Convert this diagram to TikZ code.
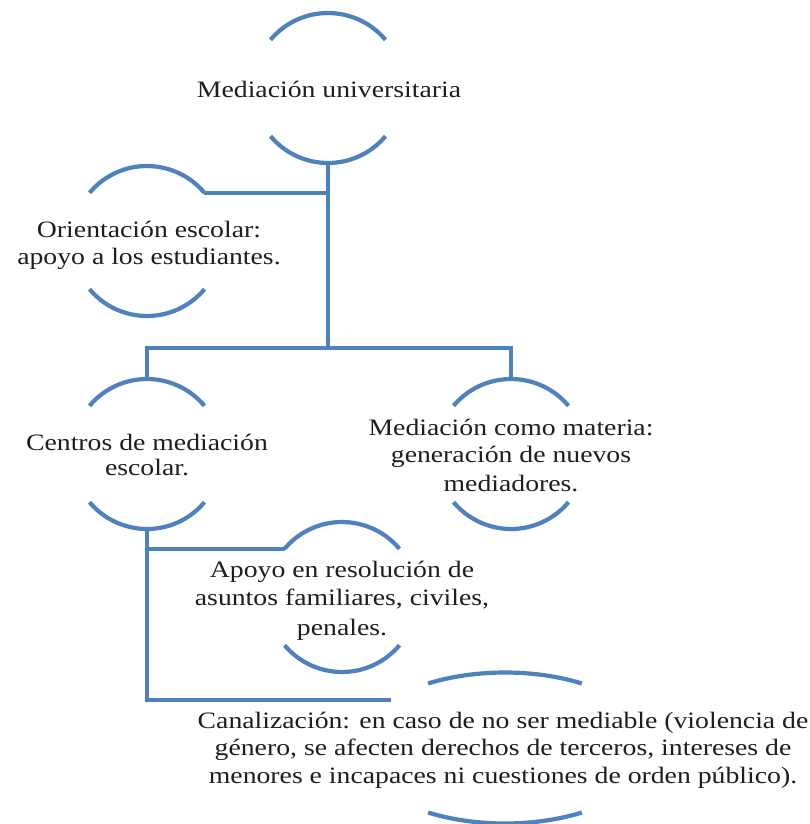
\documentclass[tikz,border=0pt]{standalone}
\usepackage{fontspec}
\setmainfont{Liberation Serif}[FakeStretch=1.18]
\usetikzlibrary{shapes.geometric}
\definecolor{linkblue}{HTML}{4F81BD}
\definecolor{inkgray}{HTML}{1E1E1E}
\begin{document}
\begin{tikzpicture}[x=1pt,y=-1pt,
  conn/.style={draw=linkblue,line width=4.2pt},
  ring/.style={circle,minimum size=150pt,inner sep=0pt,outer sep=0pt},
  oval/.style={ellipse,minimum width=296pt,minimum height=151pt,inner sep=0pt,outer sep=0pt},
  txt/.style={align=center,text=inkgray,font=\fontsize{23.5}{27.5}\selectfont,inner sep=0pt}]
\useasboundingbox (0,0) rectangle (809,824);
\fill[white] (0,0) rectangle (809,824);

% invisible outlines
\node[ring] (a) at (328,88) {};
\node[ring] (b) at (147,241) {};
\node[ring] (c) at (147,454) {};
\node[ring] (d) at (511,454) {};
\node[ring] (e) at (342,597) {};
\node[oval] (f) at (505,748) {};
\coordinate (j1) at (328,348);

% arcs
\foreach \n in {a,b,c,d,e}{
  \draw[conn] (\n.40) arc[start angle=40,end angle=140,radius=75pt];
  \draw[conn] (\n.220) arc[start angle=220,end angle=320,radius=75pt];
}
\draw[conn] ([shift={(f.center)}]58.7:148pt and 75.5pt) arc[start angle=58.7,end angle=121.3,x radius=148pt,y radius=75.5pt];
\draw[conn] ([shift={(f.center)}]238.7:148pt and 75.5pt) arc[start angle=238.7,end angle=301.3,x radius=148pt,y radius=75.5pt];

% connectors
\draw[conn] (a.south) -- (j1);
\draw[conn] (b.40) -- (b.40 -| a.south);
\draw[conn] (c.north) -- (c.north |- j1) -- (d.north |- j1) -- (d.north);
\draw[conn] (c.south) -- (c.south |- f.157) -- (f.157);
\draw[conn] (c.south |- e.140) -- (e.140);

% texts
\node[txt] (ta) at (329,89.5) {Mediación universitaria};
\node[txt] (tb) at (149,245.5) {Orientación escolar:\\apoyo a los estudiantes.};
\node[txt] (tc) at (147,455) {Centros de mediación\\[-2pt]escolar.};
\node[txt] (td) at (511,455.5) {Mediación como materia:\\generación de nuevos\\[1.5pt]mediadores.};
\node[txt] (te) at (342,601) {Apoyo en resolución de\\asuntos familiares, civiles,\\[2.5pt]penales.};
\node[txt] (tf) at (503,750) {Canalización: en caso de no ser mediable (violencia de\\género, se afecten derechos de terceros, intereses de\\menores e incapaces ni cuestiones de orden público).};
\end{tikzpicture}
\end{document}
